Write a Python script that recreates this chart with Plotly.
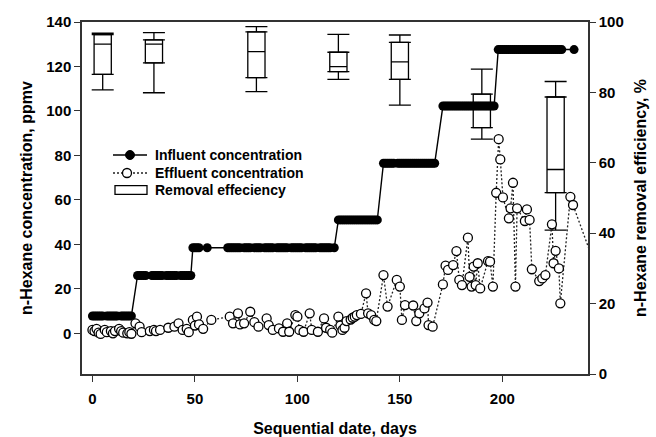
import plotly.graph_objects as go

# ---------------- data ----------------
# Influent concentration (ppmv): stepwise levels and the sampling days at each level
influent_levels = [7.8, 26.0, 38.5, 51.0, 76.5, 102.2, 127.6]
influent_days_by_level = [
    [0, 1, 2, 3, 4, 5, 7, 8, 9, 10, 11, 12, 14, 15, 16, 17, 18, 19],
    [22, 23, 24, 25, 26, 29, 30, 31, 32, 33, 34, 36, 37, 38, 39, 40, 41, 43, 44, 45, 46, 47, 48],
    [49, 50, 51, 52, 56, 66, 67, 68, 69, 70, 71, 72, 74, 75, 76, 77, 79, 80, 81, 82,
     84, 85, 86, 87, 88, 90, 91, 92, 93, 94, 95, 97, 98, 99, 100, 101, 102,
     104, 105, 106, 107, 108, 109, 111, 112, 113, 114, 115, 116, 118],
    [120, 121, 122, 123, 124, 125, 126, 127, 128, 129, 130, 131, 132, 133, 134, 135, 136, 137, 138, 139],
    [142, 143, 144, 145, 146, 147, 149, 150, 151, 152, 153, 154, 155, 156, 157, 158, 159, 160,
     161, 162, 163, 164, 165, 166, 167],
    [171, 172, 173, 174, 175, 176, 177, 178, 179, 180, 181, 182, 183, 184, 185, 186, 187,
     188, 189, 190, 191, 192, 193, 194, 195, 196],
    [198, 199, 200, 201, 202, 203, 204, 205, 206, 207, 208, 209, 210, 211, 212, 213, 214,
     215, 216, 217, 218, 219, 220, 221, 222, 223, 224, 225, 226, 227, 228, 229, 235],
]

# Effluent concentration (ppmv)
effluent_days = [
    0, 1, 2, 3, 4, 6, 7, 9, 10, 11, 13, 14, 15, 17, 18, 19,
    21, 23, 24, 28, 30, 31, 33, 37, 40, 42, 44, 46, 47, 49, 50, 51, 52, 54, 58,
    67, 68.6, 71, 72, 74, 77, 79, 81, 85, 86, 88, 91, 93, 95, 96, 99, 100, 101, 103,
    106, 107, 110, 113, 114, 116, 117, 120, 121, 122, 123, 124, 126, 127, 128, 129,
    131, 133.5, 134.5, 136, 137.5, 138.5, 142, 144, 148.5, 150, 151, 152.5, 156.5,
    158, 159.5, 162, 163.5, 164, 166,
    171, 172.3, 173.5, 176, 177.6, 179, 180.3, 183.2, 184, 185, 186, 187, 188, 189.2,
    193, 194, 195.4, 197, 198.2, 199, 200.3, 203.2, 204, 205.2, 206.4, 207.2,
    211, 212, 213.3, 214.4, 218, 219.5, 221, 224.2, 225, 226, 227.6, 228.3,
    233.2, 234.5, 247,
]
effluent_ppmv = [
    1.5, 1.0, 2.0, 0.3, -0.3, 1.5, 0.5, 1.0, 0.0, 1.0, 2.0, 1.0, 0.3, 0.0, 0.5, -0.2,
    4.5, 3.0, 0.5, 1.0, 1.5, 1.0, 1.5, 2.5, 3.0, 4.5, 1.5, 2.0, 0.5, 6.0, 3.5, 7.5, 4.0, 2.0, 6.0,
    7.5, 4.5, 9.0, 4.0, 4.5, 9.7, 5.0, 3.0, 6.7, 3.7, 1.5, 2.2, 0.7, 4.5, 0.7, 8.2, 7.5, 1.5, 0.7,
    9.0, 1.5, 0.7, 6.7, 2.5, 1.5, 0.3, 7.5, 3.5, 1.5, 2.5, 5.5, 6.2, 7.0, 7.5, 8.2,
    8.7, 18.0, 9.0, 8.2, 6.0, 5.5, 26.2, 12.0, 24.0, 21.0, 6.0, 12.7, 12.5,
    5.5, 9.0, 11.2, 13.8, 3.7, 3.0,
    22.0, 30.4, 28.5, 30.7, 37.0, 24.0, 21.7, 43.0, 25.4, 21.0, 30.0, 21.7, 31.5, 20.2,
    32.5, 32.2, 21.0, 63.2, 87.3, 78.2, 61.1, 51.7, 56.2, 67.7, 21.0, 56.2,
    50.5, 55.7, 51.0, 28.8, 23.5, 24.7, 26.2, 49.0, 31.5, 37.1, 29.2, 13.5,
    61.4, 57.7, 26.0,
]

# Removal efficiency (%) box statistics per stage
box_days = [5, 30, 80, 120, 150, 190, 226]
box_upper = [96.8, 97.0, 98.7, 96.5, 96.3, 86.6, 83.1]
box_q3 = [96.4, 94.9, 97.2, 91.4, 94.2, 79.5, 78.7]
box_median = [93.7, 93.7, 91.6, 87.3, 88.7, 76.0, 58.1]
box_q1 = [85.1, 88.4, 84.2, 85.9, 83.7, 70.0, 51.5]
box_lower = [80.7, 79.9, 80.2, 83.7, 76.4, 66.7, 40.9]

x_ticks = [0, 50, 100, 150, 200]
left_ticks = [0, 20, 40, 60, 80, 100, 120, 140]
right_ticks = [0, 20, 40, 60, 80, 100]

legend_labels = ["Influent concentration", "Effluent concentration", "Removal effeciency"]

# ---------------- build ----------------
inf_x, inf_y = [], []
for lvl, days in zip(influent_levels, influent_days_by_level):
    inf_x += days
    inf_y += [lvl] * len(days)

FONT = "Liberation Sans, Arial, sans-serif"
AX = "#333333"
W, H = 656, 437
ML, MR, MT, MB = 82, 68, 22, 63
PW, PH = W - ML - MR, H - MT - MB


def px(xp):
    return (xp - ML) / PW


def py(yp):
    return 1 - (yp - MT) / PH


fig = go.Figure()

fig.add_trace(go.Scatter(
    x=inf_x, y=inf_y, yaxis="y2", name=legend_labels[0],
    mode="lines+markers",
    line=dict(color="black", width=1.4),
    marker=dict(symbol="circle", size=9, color="black"),
))
fig.add_trace(go.Scatter(
    x=effluent_days, y=effluent_ppmv, yaxis="y2", name=legend_labels[1],
    mode="lines+markers",
    line=dict(color="#222222", width=1.3, dash="2px,2px"),
    marker=dict(symbol="circle", size=9, color="white", line=dict(color="black", width=1.3)),
))
fig.add_trace(go.Box(
    x=box_days, q1=box_q1, median=box_median, q3=box_q3,
    lowerfence=box_q1, upperfence=box_q3,
    width=8.4, yaxis="y", name=legend_labels[2],
    fillcolor="white", line=dict(color="black", width=1.3),
    boxpoints=False,
))
# whiskers with wide caps
fig.add_trace(go.Scatter(
    x=box_days, y=box_q3, yaxis="y", mode="markers", showlegend=False,
    marker=dict(size=1, color="rgba(0,0,0,0)"),
    error_y=dict(type="data", symmetric=False,
                 array=[u - q for u, q in zip(box_upper, box_q3)],
                 arrayminus=[0] * len(box_days),
                 width=11, thickness=1.3, color="black"),
    hoverinfo="skip",
))
fig.add_trace(go.Scatter(
    x=box_days, y=box_q1, yaxis="y", mode="markers", showlegend=False,
    marker=dict(size=1, color="rgba(0,0,0,0)"),
    error_y=dict(type="data", symmetric=False,
                 array=[0] * len(box_days),
                 arrayminus=[q - l for q, l in zip(box_q1, box_lower)],
                 width=11, thickness=1.3, color="black"),
    hoverinfo="skip",
))

# ---- hand-drawn legend (wide symbols, tight rows as in the original) ----
row_y = [155, 173, 190]
sym_x0, sym_x1, text_x = 113, 147, 153
legend_font = dict(family=FONT, size=14, color="black", weight="bold")
shapes = []
annotations = []
# row 1: solid line + filled dot
shapes.append(dict(type="line", xref="paper", yref="paper",
                   x0=px(sym_x0), x1=px(sym_x1), y0=py(row_y[0]), y1=py(row_y[0]),
                   line=dict(color="black", width=1.4)))
shapes.append(dict(type="circle", xref="paper", yref="paper",
                   x0=px(130 - 4.5), x1=px(130 + 4.5), y0=py(row_y[0] + 4.5), y1=py(row_y[0] - 4.5),
                   fillcolor="black", line=dict(color="black", width=1)))
# row 2: dotted line + open circle
shapes.append(dict(type="line", xref="paper", yref="paper",
                   x0=px(sym_x0), x1=px(sym_x1), y0=py(row_y[1]), y1=py(row_y[1]),
                   line=dict(color="#222222", width=1.3, dash="2px,2px")))
shapes.append(dict(type="circle", xref="paper", yref="paper",
                   x0=px(127 - 4.5), x1=px(127 + 4.5), y0=py(row_y[1] + 4.5), y1=py(row_y[1] - 4.5),
                   fillcolor="white", line=dict(color="black", width=1.3)))
# row 3: open rectangle
shapes.append(dict(type="rect", xref="paper", yref="paper",
                   x0=px(115), x1=px(147), y0=py(row_y[2] + 4.3), y1=py(row_y[2] - 4.3),
                   fillcolor="white", line=dict(color="black", width=1.3)))
for label, yy in zip(legend_labels, row_y):
    annotations.append(dict(text=label, xref="paper", yref="paper",
                            x=px(text_x), y=py(yy), xanchor="left", yanchor="middle",
                            showarrow=False, font=legend_font))

tickfont = dict(family=FONT, size=15, color="black", weight="bold")
titlefont = dict(family=FONT, size=16, color="black", weight="bold")

fig.update_layout(
    width=W, height=H,
    margin=dict(l=ML, r=MR, t=MT, b=MB, autoexpand=False),
    paper_bgcolor="white", plot_bgcolor="white",
    showlegend=False,
    shapes=shapes, annotations=annotations,
    xaxis=dict(
        range=[-5.1, 241.8], tickvals=x_ticks, ticks="outside", ticklen=6, tickwidth=1.3,
        tickcolor=AX, showline=True, linecolor=AX, linewidth=1.5, mirror=True,
        showgrid=False, zeroline=False, tickfont=tickfont, ticklabelstandoff=4,
        automargin=False,
        title=dict(text="Sequential date, days", font=titlefont, standoff=20),
    ),
    yaxis=dict(
        range=[0, 100], tickvals=right_ticks, side="right", anchor="x",
        ticks="outside", ticklen=6, tickwidth=1.3, tickcolor=AX,
        showline=True, linecolor=AX, linewidth=1.5, showgrid=False, zeroline=False,
        tickfont=tickfont, automargin=False,
        title=dict(text="n-Hexane removal efficiency, %", font=titlefont, standoff=12),
    ),
    yaxis2=dict(
        range=[-18.3, 140], tickvals=left_ticks, side="left", overlaying="y", anchor="x",
        ticks="outside", ticklen=6, tickwidth=1.3, tickcolor=AX,
        showline=True, linecolor=AX, linewidth=1.5, showgrid=False, zeroline=False,
        tickfont=tickfont, automargin=False,
        title=dict(text="n-Hexane concentration, ppmv", font=titlefont, standoff=10),
    ),
)

fig.write_html("out.html")
